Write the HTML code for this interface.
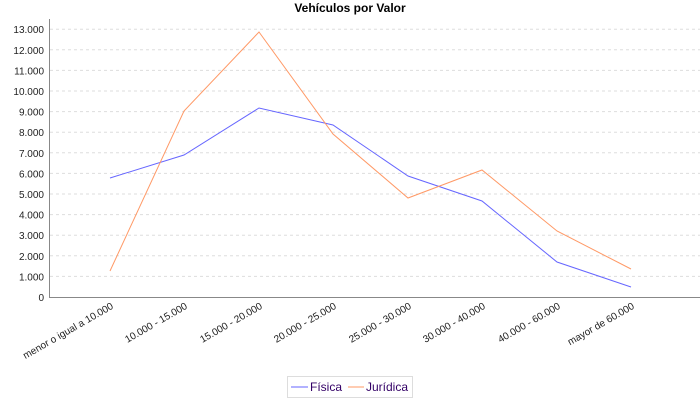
<!DOCTYPE html>
<html><head><meta charset="utf-8"><style>
html,body{margin:0;padding:0;background:#fff;}
svg{display:block;font-family:"Liberation Sans",sans-serif;}
</style></head><body>
<svg width="700" height="400" xmlns="http://www.w3.org/2000/svg">
<rect width="700" height="400" fill="#fff"/>
<text x="350" y="12" text-anchor="middle" font-size="12" font-weight="bold" fill="#000">Vehículos por Valor</text>
<g stroke="#dddddd" stroke-dasharray="3,3" stroke-width="1">
<line x1="50" x2="700" y1="276.4" y2="276.4"/>
<line x1="50" x2="700" y1="255.8" y2="255.8"/>
<line x1="50" x2="700" y1="235.2" y2="235.2"/>
<line x1="50" x2="700" y1="214.6" y2="214.6"/>
<line x1="50" x2="700" y1="194" y2="194"/>
<line x1="50" x2="700" y1="173.4" y2="173.4"/>
<line x1="50" x2="700" y1="152.8" y2="152.8"/>
<line x1="50" x2="700" y1="132.2" y2="132.2"/>
<line x1="50" x2="700" y1="111.6" y2="111.6"/>
<line x1="50" x2="700" y1="91" y2="91"/>
<line x1="50" x2="700" y1="70.4" y2="70.4"/>
<line x1="50" x2="700" y1="49.8" y2="49.8"/>
<line x1="50" x2="700" y1="29.2" y2="29.2"/>
</g>
<line x1="49.5" y1="19" x2="49.5" y2="297.5" stroke="#888" stroke-width="1"/>
<line x1="49" y1="297.5" x2="700" y2="297.5" stroke="#888" stroke-width="1"/>
<g font-size="10" fill="#222" text-anchor="end">
<text x="44" y="301">0</text>
<text x="44" y="280.4">1.000</text>
<text x="44" y="259.8">2.000</text>
<text x="44" y="239.2">3.000</text>
<text x="44" y="218.6">4.000</text>
<text x="44" y="198">5.000</text>
<text x="44" y="177.4">6.000</text>
<text x="44" y="156.8">7.000</text>
<text x="44" y="136.2">8.000</text>
<text x="44" y="115.6">9.000</text>
<text x="44" y="95">10.000</text>
<text x="44" y="74.4">11.000</text>
<text x="44" y="53.8">12.000</text>
<text x="44" y="33.2">13.000</text>
</g>
<g font-size="10" fill="#222" text-anchor="end">
<text transform="translate(114,308) rotate(-30)">menor o igual a 10.000</text>
<text transform="translate(188,308) rotate(-30)">10.000 - 15.000</text>
<text transform="translate(263,308) rotate(-30)">15.000 - 20.000</text>
<text transform="translate(337,308) rotate(-30)">20.000 - 25.000</text>
<text transform="translate(412,308) rotate(-30)">25.000 - 30.000</text>
<text transform="translate(486,308) rotate(-30)">30.000 - 40.000</text>
<text transform="translate(561,308) rotate(-30)">40.000 - 60.000</text>
<text transform="translate(635,308) rotate(-30)">mayor de 60.000</text>
</g>
<polyline fill="none" stroke="#6666ff" stroke-width="1" points="110,178 184,155 259,108 333,125 408,176 482,201 557,262 631,287"/>
<polyline fill="none" stroke="#ff9966" stroke-width="1" points="110,271 184,111 259,32 333,134 408,198 482,170 557,231 631,269"/>
<rect x="287.5" y="376.5" width="125" height="21" fill="#fff" stroke="#ddd"/>
<line x1="291" y1="387" x2="308" y2="387" stroke="#6666ff"/>
<text x="310" y="391" font-size="12" fill="#330066">Física</text>
<line x1="348" y1="387" x2="364" y2="387" stroke="#ff9966"/>
<text x="366" y="391" font-size="12" fill="#330066">Jurídica</text>
</svg>
</body></html>
